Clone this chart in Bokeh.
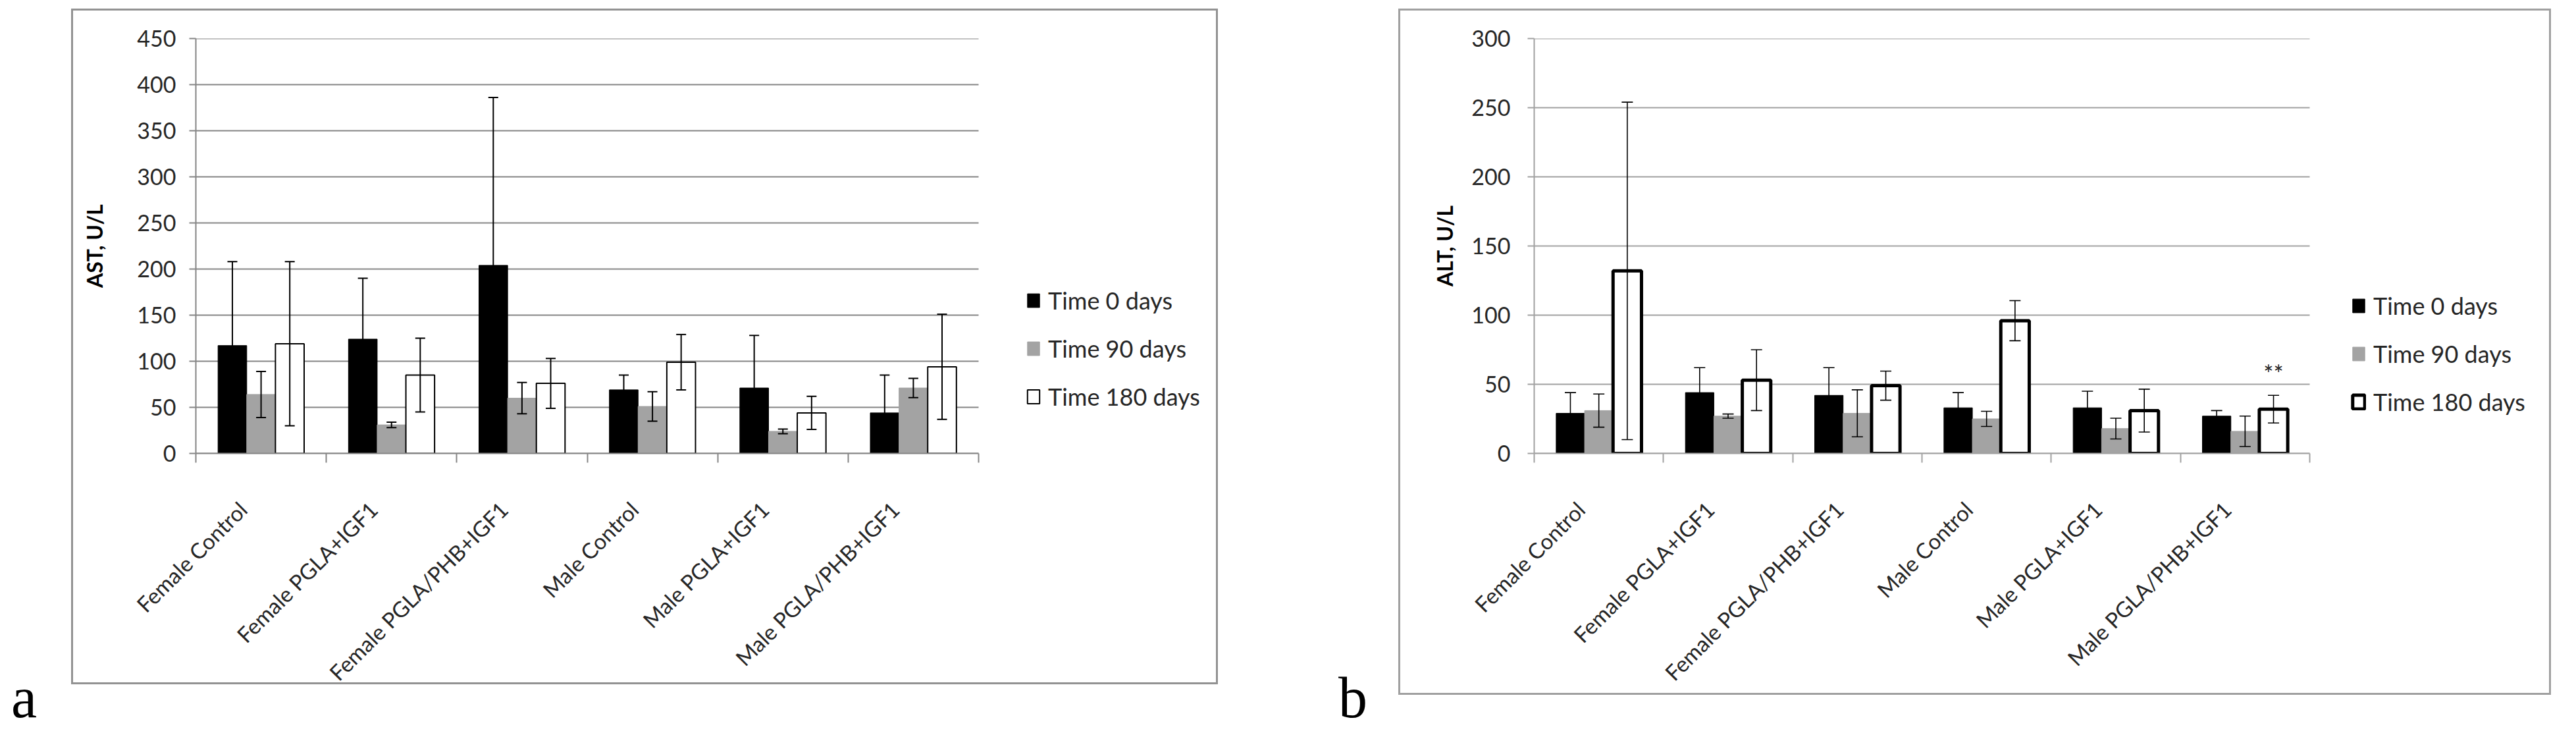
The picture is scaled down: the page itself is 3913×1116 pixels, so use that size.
import math
from bokeh.plotting import figure
from bokeh.models import (ColumnDataSource, Range1d, FixedTicker, Whisker, TeeHead,
                          Legend, LegendItem, Div)
from bokeh.layouts import row
from bokeh.embed import file_html
from bokeh.resources import INLINE
from bokeh.core.properties import value

# ---------------- data ----------------
categories = ["Female Control", "Female PGLA+IGF1", "Female PGLA/PHB+IGF1",
              "Male Control", "Male PGLA+IGF1", "Male PGLA/PHB+IGF1"]
series_names = ["Time 0 days", "Time 90 days", "Time 180 days"]

# panel a: AST, U/L (mean, SD)
ast_0 = [117, 124, 204, 69, 71, 44]
ast_0_sd = [91, 66, 182, 16, 57, 41]
ast_90 = [64, 31, 60, 51, 24, 71]
ast_90_sd = [25, 3, 17, 16, 2.5, 10.5]
ast_180 = [119, 85, 76, 99, 44, 94]
ast_180_sd = [89, 40, 27, 30, 18, 57]
ast_ticks = [0, 50, 100, 150, 200, 250, 300, 350, 400, 450]

# panel b: ALT, U/L (mean, SD)
alt_0 = [29, 44, 42, 33, 33, 27]
alt_0_sd = [15, 18, 20, 11, 12, 4]
alt_90 = [31, 27, 29, 25, 18, 16]
alt_90_sd = [12, 1.5, 17, 5.5, 7.5, 11]
alt_180 = [132, 53, 49, 96, 31, 32]
alt_180_sd = [122, 22, 10.5, 14.5, 15.5, 10]
alt_ticks = [0, 50, 100, 150, 200, 250, 300]

# significance mark on panel b
sig_category = ["Male PGLA/PHB+IGF1"]
sig_series = [2]
sig_y = [58]
sig_text = ["**"]

FONT = "Lato"
TEXT_COLOR = "#262626"
FILLS = ["#000000", "#a3a3a3", "#ffffff"]
BAR_W = 0.22
OFFSETS = [-BAR_W, 0.0, BAR_W]
LABEL_SHIFT = -0.14
FIG_H = 1075


def frame_css(color, box_h, lw=3):
    """Chart-area border drawn as CSS background lines behind a transparent canvas."""
    g = "linear-gradient({0},{0})".format(color)
    return {
        "background-image": ", ".join([g] * 4),
        "background-repeat": "no-repeat",
        "background-size": "100% {0}px, 100% {0}px, {0}px {1}px, {0}px {1}px".format(lw, box_h),
        "background-position": "0 0, 0 {0}px, 0 0, 100% 0".format(box_h - lw),
    }


def make_chart(means, sds, ticks, y_label, w, bl, bt, bb, plot_px, box_h,
               white_lw, err_lw, cap, grid_color, leg_x, leg_y,
               tick_standoff, title_standoff, frame_color, sig=None):
    n = len(categories)
    centers = [i + 1 for i in range(n)]
    frame_px = w - bl
    x_end = 0.5 + frame_px * n / plot_px   # frame also holds the legend area
    y_max = ticks[-1]
    p = figure(width=w, height=FIG_H, output_backend="svg", toolbar_location=None,
               x_range=Range1d(0.5, x_end), y_range=Range1d(0, y_max),
               min_border_left=bl, min_border_right=0,
               min_border_top=bt, min_border_bottom=bb)
    p.outline_line_color = None
    p.background_fill_color = None
    p.border_fill_color = None
    p.xgrid.visible = False
    p.ygrid.visible = False

    # horizontal gridlines across the category area only
    p.segment(x0=[0.5] * len(ticks), x1=[n + 0.5] * len(ticks), y0=ticks, y1=ticks,
              line_color=grid_color, line_width=2)

    renderers = []
    for k in range(3):
        xs = [c + OFFSETS[k] for c in centers]
        src = ColumnDataSource(dict(
            x=xs, top=means[k],
            upper=[m + s for m, s in zip(means[k], sds[k])],
            lower=[m - s for m, s in zip(means[k], sds[k])]))
        r = p.vbar(x="x", top="top", bottom=0, width=BAR_W, source=src,
                   fill_color=FILLS[k],
                   line_color="black" if k != 1 else FILLS[1],
                   line_width=white_lw if k == 2 else 1)
        renderers.append(r)
        wh = Whisker(base="x", upper="upper", lower="lower", source=src,
                     line_color="black", line_width=err_lw, level="overlay",
                     upper_head=TeeHead(size=cap, line_width=err_lw, line_color="black"),
                     lower_head=TeeHead(size=cap, line_width=err_lw, line_color="black"))
        p.add_layout(wh)

    if sig:
        cats, sers, ys, txt = sig
        sx = [categories.index(c) + 1 + OFFSETS[s] for c, s in zip(cats, sers)]
        p.text(x=sx, y=ys, text=txt, text_font=value(FONT), text_font_size="36px",
               text_align="center", text_baseline="middle", text_color=TEXT_COLOR)

    # y axis
    ya = p.yaxis[0]
    ya.ticker = FixedTicker(ticks=ticks, minor_ticks=[])
    ya.axis_line_color = grid_color
    ya.axis_line_width = 2
    ya.major_tick_line_color = grid_color
    ya.major_tick_line_width = 2
    ya.major_tick_out = 10
    ya.major_tick_in = 0
    ya.minor_tick_line_color = None
    ya.major_label_text_font = FONT
    ya.major_label_text_font_size = "34px"
    ya.major_label_text_color = TEXT_COLOR
    ya.major_label_standoff = tick_standoff
    ya.axis_label = y_label
    ya.axis_label_text_font = FONT
    ya.axis_label_text_font_style = "bold"
    ya.axis_label_text_font_size = "32px"
    ya.axis_label_text_color = "#000000"
    ya.axis_label_standoff = title_standoff

    # x axis: labels near category centres, tick marks at category boundaries
    xa = p.xaxis[0]
    label_pos = [c + LABEL_SHIFT for c in centers]
    xa.bounds = (0.5, n + 0.5)
    xa.ticker = FixedTicker(ticks=label_pos,
                            minor_ticks=[c - 0.5 for c in centers] + [n + 0.5])
    xa.major_label_overrides = {lp: name for lp, name in zip(label_pos, categories)}
    xa.axis_line_color = grid_color
    xa.axis_line_width = 2
    xa.major_tick_line_color = None
    xa.major_tick_out = 0
    xa.major_tick_in = 0
    xa.minor_tick_line_color = grid_color
    xa.minor_tick_line_width = 2
    xa.minor_tick_out = 14
    xa.minor_tick_in = 0
    xa.major_label_orientation = math.pi / 4
    xa.major_label_text_font = FONT
    xa.major_label_text_font_size = "33px"
    xa.major_label_text_color = TEXT_COLOR
    xa.major_label_standoff = 65

    legend = Legend(items=[LegendItem(label=series_names[k], renderers=[renderers[k]])
                           for k in range(3)],
                    location=(leg_x, leg_y), orientation="vertical",
                    padding=0, margin=0, spacing=29,
                    glyph_width=23, glyph_height=26, label_height=26,
                    label_standoff=11, label_text_font=FONT,
                    label_text_font_size="36px", label_text_color=TEXT_COLOR,
                    border_line_alpha=0, background_fill_alpha=0)
    p.add_layout(legend)
    p.styles = frame_css(frame_color, box_h)
    return p


# page geometry: chart a box 116..1858 x 21..1047, chart b box 2132..3883 x 21..1063
pa = make_chart([ast_0, ast_90, ast_180], [ast_0_sd, ast_90_sd, ast_180_sd], ast_ticks,
                "AST, U/L", w=1742, bl=189, bt=27, bb=FIG_H + 21 - 696, plot_px=1189,
                box_h=1026, white_lw=2, err_lw=2, cap=15, grid_color="#868686",
                leg_x=1261, leg_y=64, tick_standoff=20, title_standoff=42,
                frame_color="#929292")
pa.margin = (13, 0, 0, 0)

pb = make_chart([alt_0, alt_90, alt_180], [alt_0_sd, alt_90_sd, alt_180_sd], alt_ticks,
                "ALT, U/L", w=1751, bl=206, bt=45, bb=FIG_H + 21 - 706, plot_px=1178,
                box_h=1042, white_lw=5, err_lw=1.6, cap=17, grid_color="#a2a2a2",
                leg_x=1241, leg_y=56, tick_standoff=26, title_standoff=18,
                frame_color="#a0a0a0", sig=(sig_category, sig_series, sig_y, sig_text))
pb.margin = (13, 0, 0, 0)

letter_style = {"font-family": "Liberation Serif", "font-size": "88px",
                "line-height": "1", "color": "#000000"}
da = Div(text="a", width=91, height=85, margin=(1016, 0, 0, 17), styles=letter_style)
db = Div(text="b", width=91, height=85, margin=(1016, 0, 0, 183), styles=letter_style)

layout = row(da, pa, db, pb)
open("out.html", "w").write(file_html(layout, INLINE))
